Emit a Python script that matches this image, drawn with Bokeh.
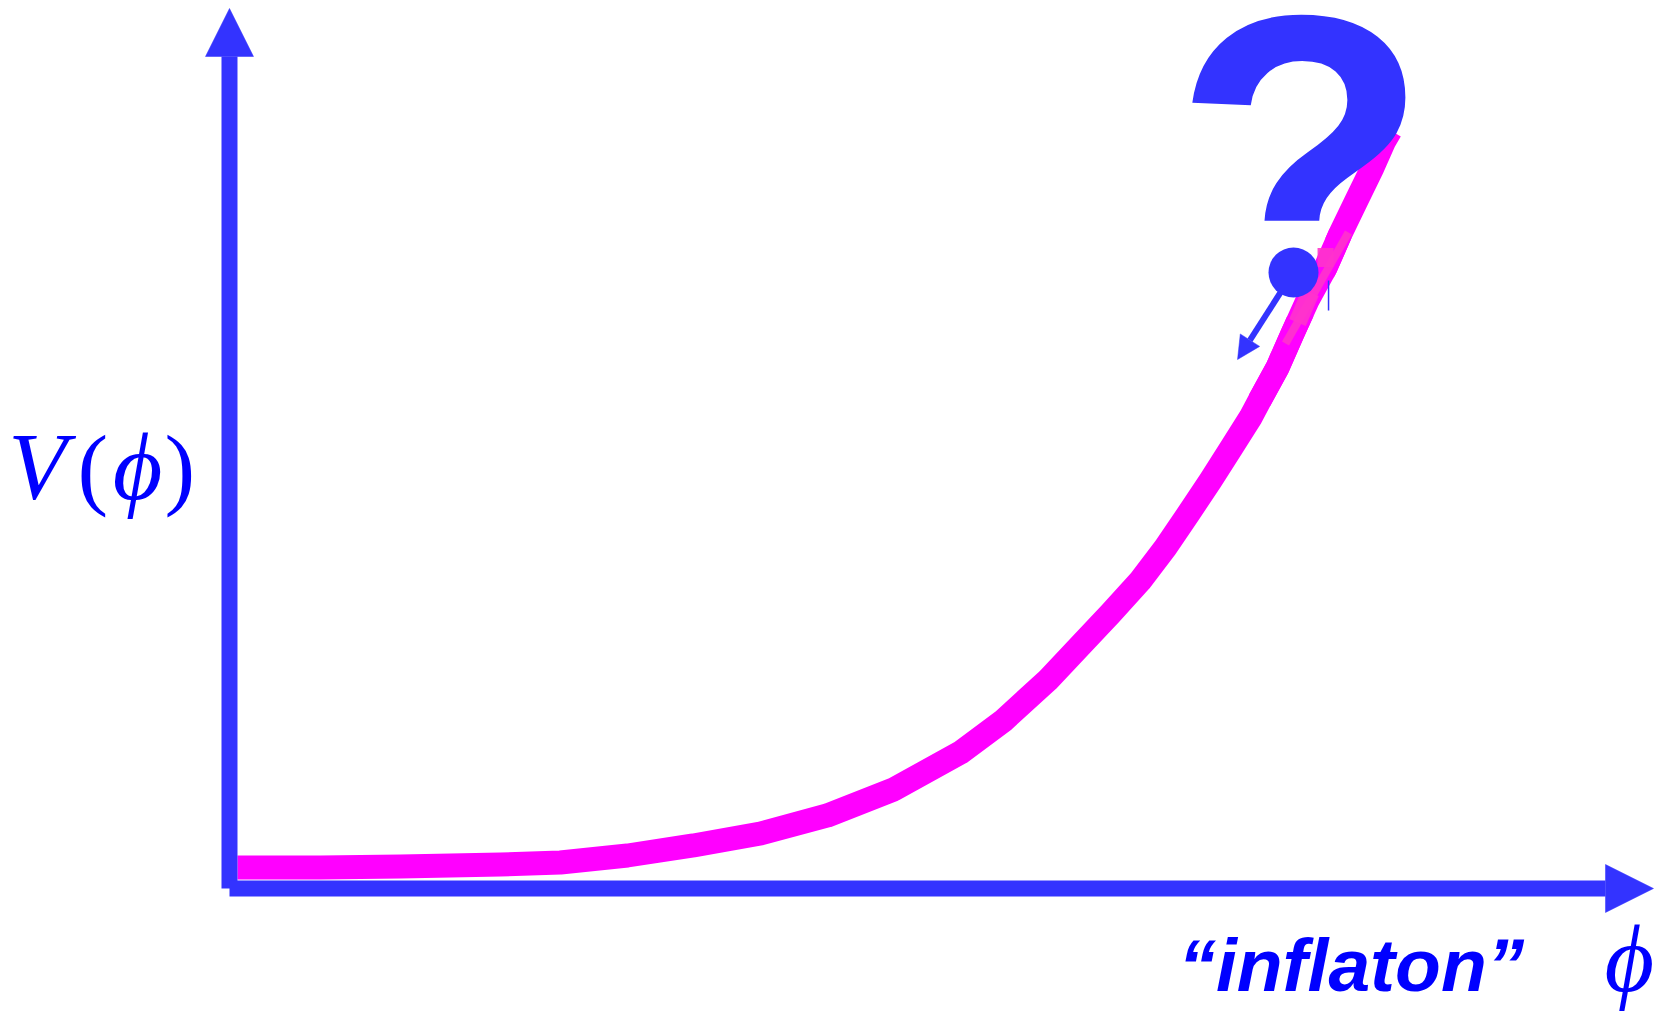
import numpy as np
from bokeh.plotting import figure
from bokeh.models import Range1d, Arrow, NormalHead
from bokeh.core.properties import value
from bokeh.embed import file_html
from bokeh.resources import INLINE

# ---- data (schematic potential V(phi)) ----
phi = [0.0056, 0.0639, 0.1201, 0.1903, 0.2324, 0.2795, 0.3258, 0.3729, 0.4199,
       0.4663, 0.5133, 0.5435, 0.5744, 0.5962, 0.6187, 0.6397, 0.6573, 0.6735,
       0.6889, 0.7037, 0.7170, 0.7233, 0.7360, 0.7465, 0.7570, 0.7697, 0.7802,
       0.7914, 0.8027, 0.8111, 0.8153]
V = [0.0239, 0.0239, 0.0250, 0.0273, 0.0295, 0.0375, 0.0489, 0.0625, 0.0830,
     0.1125, 0.1545, 0.1909, 0.2364, 0.2739, 0.3125, 0.3500, 0.3875, 0.4261,
     0.4636, 0.5011, 0.5352, 0.5545, 0.5920, 0.6307, 0.6682, 0.7057, 0.7443,
     0.7818, 0.8193, 0.8500, 0.8614]
ball_phi = [0.7472]
ball_V = [0.7000]
roll_start = (0.7381, 0.6773)
roll_end = (0.7079, 0.6011)
axis_max_phi = 1.0
axis_max_V = 1.0

y_label_parts = ["V", "(", "\u03d5", ")"]
x_label = "\u201cinflaton\u201d"
x_symbol = "\u03d5"
question = "?"

AX = "#3333FF"
TXT = "#0000FF"
MAG = "#FF00FF"
PINK = "#FF33CC"

p = figure(width=1661, height=1012, x_range=Range1d(-0.16081, 1.00562),
           y_range=Range1d(-0.14091, 1.00909), output_backend="svg",
           toolbar_location=None, min_border=0, x_axis_type=None, y_axis_type=None)
p.grid.visible = False
p.outline_line_color = None
p.background_fill_color = "white"
p.border_fill_color = "white"

# the potential curve
p.line(phi, V, line_color=MAG, line_width=24, line_join="round")

# question mark
p.text(x=[0.6626], y=[0.8250], text=[question], text_font=value("Liberation Sans"),
       text_font_style="bold", text_font_size="420px", text_color=AX,
       text_baseline="alphabetic", text_align="left")

# hide the glyph's own dot; the ball replaces it
p.quad(left=[0.7226], right=[0.7753], top=[0.7386], bottom=[0.6500],
       fill_color="white", line_color=None)

# redraw the part of the curve passing behind the ball region
ph = np.array(phi); vv = np.array(V)
m = (vv >= 0.55) & (vv <= 0.745)
p.line(ph[m], vv[m], line_color=MAG, line_width=24, line_join="round")

# pink overlay marks
p.segment(x0=[0.7858], y0=[0.7455], x1=[0.7416], y1=[0.6193], line_color=PINK,
          line_width=8, line_alpha=0.9)
p.segment(x0=[0.7591], y0=[0.6773], x1=[0.7500], y1=[0.6432], line_color=PINK,
          line_width=18, line_alpha=0.9)
p.rect(x=[0.7697], y=[0.7170], width=16, height=19, width_units="screen",
       height_units="screen", fill_color=PINK, line_color=None, fill_alpha=0.9)
p.segment(x0=[0.7718], y0=[0.6909], x1=[0.7718], y1=[0.6568], line_color=AX, line_width=1.5)

# ball and roll direction arrow
p.add_layout(Arrow(x_start=roll_start[0], y_start=roll_start[1], x_end=roll_end[0], y_end=roll_end[1],
                   line_color=AX, line_width=6,
                   end=NormalHead(size=23, fill_color=AX, line_color=AX, line_width=0.5)))
p.scatter(ball_phi, ball_V, size=50, marker="circle", fill_color=AX, line_color=None)

# axes
p.add_layout(Arrow(x_start=0, y_start=0, x_end=0, y_end=axis_max_V, line_color=AX, line_width=16,
                   end=NormalHead(size=48, fill_color=AX, line_color=AX, line_width=0.5)))
p.add_layout(Arrow(x_start=0, y_start=0, x_end=axis_max_phi, y_end=0, line_color=AX, line_width=16,
                   end=NormalHead(size=48, fill_color=AX, line_color=AX, line_width=0.5)))

# y label V(phi)
px = [-0.1348, -0.0959, -0.0646, -0.0348]
styles = ["italic", "normal", "italic", "normal"]
sizes = ["96px", "92px", "96px", "92px"]
for t, xx, st, sz in zip(y_label_parts, px, styles, sizes):
    p.text(x=[xx], y=[0.4795], text=[t], text_font=value("Liberation Serif"),
           text_font_style=st, text_font_size=sz, text_color=TXT,
           text_baseline="alphabetic", text_align="center")

# x labels
p.text(x=[0.6664], y=[-0.0864], text=[x_label], text_font=value("Liberation Sans"),
       text_font_style="bold italic", text_font_size="75px", text_color=TXT,
       text_baseline="alphabetic", text_align="left")
p.text(x=[0.9831], y=[-0.0795], text=[x_symbol], text_font=value("Liberation Serif"),
       text_font_style="italic", text_font_size="96px", text_color=TXT,
       text_baseline="alphabetic", text_align="center")

open("out.html", "w").write(file_html(p, INLINE))
